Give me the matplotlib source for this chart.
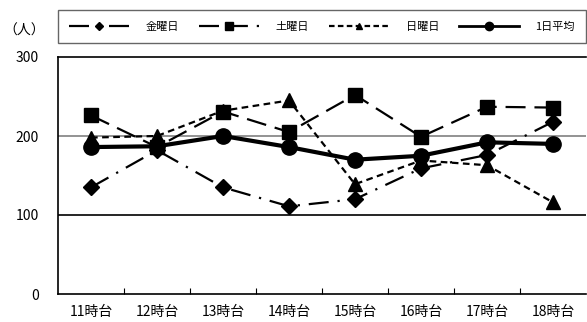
import matplotlib
matplotlib.use("Agg")
import matplotlib.pyplot as plt
from matplotlib.lines import Line2D

plt.rcParams['font.family'] = ['Noto Sans CJK JP', 'DejaVu Sans']

categories = ["11時台", "12時台", "13時台", "14時台", "15時台", "16時台", "17時台", "18時台"]
friday = [135, 182, 135, 111, 120, 159, 176, 218]
saturday = [226, 186, 231, 205, 252, 199, 237, 236]
sunday = [198, 200, 232, 245, 139, 169, 163, 116]
average = [186, 187, 200, 186, 170, 175, 192, 190]
series_names = ["金曜日", "土曜日", "日曜日", "1日平均"]
yticks = [0, 100, 200, 300]

W, H = 587, 322
fig = plt.figure(figsize=(W / 100, H / 100), dpi=100)
ax = fig.add_axes([58 / W, 1 - 294 / H, (586 - 58) / W, (294 - 57) / H])

x = list(range(len(categories)))

ax.axhline(200, color="#808080", lw=1.2, zorder=1)
ax.axhline(100, color="black", lw=1.2, zorder=1)

l1, = ax.plot(x, friday, color="black", lw=1.6, marker="D", ms=8.5,
              dashes=(9, 4, 1, 4), zorder=3)
l2, = ax.plot(x, saturday, color="black", lw=1.6, marker="s", ms=10,
              dashes=(9, 4), zorder=3)
l3, = ax.plot(x, sunday, color="black", lw=1.6, marker="^", ms=10,
              dashes=(3, 2), zorder=3)
l4, = ax.plot(x, average, color="black", lw=3.0, marker="o", ms=11,
              linestyle="-", zorder=4)

ax.set_xlim(-0.5, len(categories) - 0.5)
ax.set_ylim(0, 300)
ax.set_yticks(yticks)
ax.set_yticklabels([str(v) for v in yticks], fontsize=10)
ax.tick_params(axis="y", length=0, pad=14)
ax.set_xticks(x)
ax.set_xticklabels(categories, fontsize=10)
ax.tick_params(axis="x", length=0, pad=8)
ax.set_xticks([i + 0.5 for i in x[:-1]], minor=True)
ax.tick_params(axis="x", which="minor", direction="in", length=4, width=0.8)
for s in ["left", "top", "bottom"]:
    ax.spines[s].set_linewidth(1.2)
ax.spines["right"].set_visible(False)

fig.text(3 / W, 1 - 31 / H, "（人）", fontsize=10, va="center", ha="left")

handles = [
    Line2D([], [], color="black", lw=1.6, marker="D", ms=4.5, dashes=(9, 4, 1, 4)),
    Line2D([], [], color="black", lw=1.6, marker="s", ms=6, dashes=(9, 4)),
    Line2D([], [], color="black", lw=1.6, marker="^", ms=5, dashes=(2.5, 1.5)),
    Line2D([], [], color="black", lw=2.0, marker="o", ms=6),
]
leg = fig.legend(handles, series_names, loc="center", ncol=4, fontsize=8,
                 bbox_to_anchor=(58 / W, 1 - 44 / H, (586 - 58) / W, 35 / H),
                 mode="expand", frameon=True, fancybox=False, handlelength=5.4,
                 handletextpad=1.5, borderaxespad=0, columnspacing=1.0,
                 borderpad=1.0)
leg.get_frame().set_edgecolor("#404040")
leg.get_frame().set_linewidth(1.0)

fig.savefig("out.png", dpi=100)
